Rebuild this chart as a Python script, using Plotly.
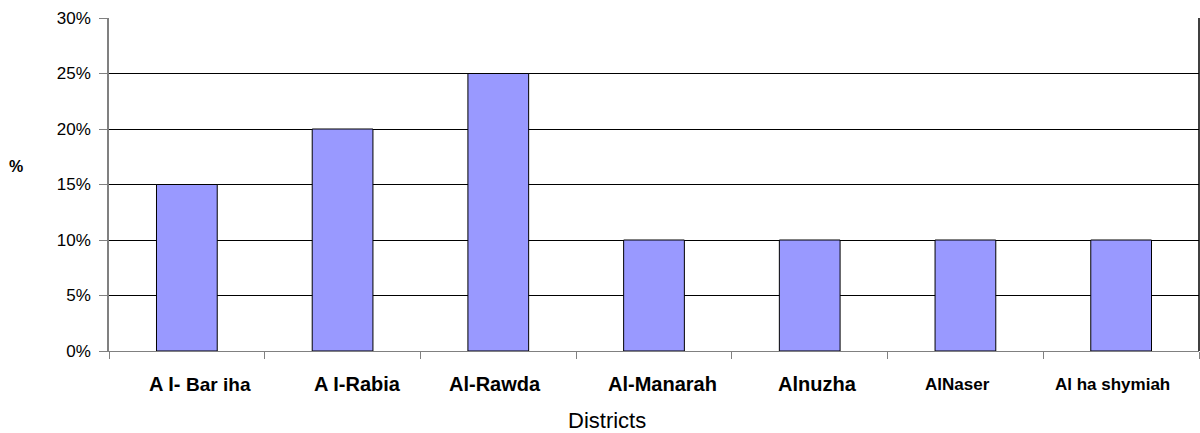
import plotly.graph_objects as go

districts = ["A I- Bar iha", "A I-Rabia", "Al-Rawda", "Al-Manarah", "Alnuzha", "AlNaser", "Al ha shymiah"]
shares = [0.15, 0.20, 0.25, 0.10, 0.10, 0.10, 0.10]
y_ticks = [0, 0.05, 0.10, 0.15, 0.20, 0.25, 0.30]
y_ticklabels = ["0%", "5%", "10%", "15%", "20%", "25%", "30%"]

# display style of each category label (rich text) and small horizontal nudges
label_html = [
    "<b>A I- <span style='font-size:19px'>Bar iha</span></b>",
    "<b>A I-Rabia</b>",
    "<b>Al-Rawda</b>",
    "<b>Al-Manarah</b>",
    "<b>Alnuzha</b>",
    "<b><span style='font-size:17px'>AlNaser</span></b>",
    "<b><span style='font-size:17px'>Al ha shymiah</span></b>",
]
label_shift = [13, 15, -3, 8, 8, -8, -9]

FONT = "Liberation Sans, Arial, sans-serif"

fig = go.Figure()
fig.add_trace(go.Bar(
    x=districts, y=shares,
    marker=dict(color="#9999FF", line=dict(color="#000000", width=1)),
    width=0.39,
    showlegend=False,
    hoverinfo="skip",
))

for name, html, sh in zip(districts, label_html, label_shift):
    fig.add_annotation(
        x=name, xref="x", y=-0.1, yref="paper",
        text=html, showarrow=False, xshift=sh,
        yanchor="middle", xanchor="center",
        font=dict(family=FONT, size=20, color="#000000"),
    )

fig.add_annotation(
    x=0.5, xref="paper", y=-0.21, yref="paper",
    text="Districts", showarrow=False, yanchor="middle", xanchor="center",
    xshift=-47,
    font=dict(family=FONT, size=22, color="#000000"),
)
fig.add_annotation(
    x=0, xref="paper", y=0.555, yref="paper",
    text="<b>%</b>", showarrow=False, xanchor="center", yanchor="middle",
    xshift=-93,
    font=dict(family=FONT, size=16, color="#000000"),
)

# right border of plot area
fig.add_shape(type="line", xref="paper", yref="paper", x0=1, x1=1, y0=0, y1=1,
              line=dict(color="#000000", width=1.5))

fig.update_layout(
    width=1200, height=433,
    margin=dict(l=109, r=1, t=18, b=82),
    paper_bgcolor="#FFFFFF", plot_bgcolor="#FFFFFF",
    bargap=0.61,
    font=dict(family=FONT, color="#000000"),
)
fig.update_xaxes(
    type="category", showticklabels=False, showgrid=False,
    tickson="boundaries", ticks="outside", ticklen=7, tickcolor="#808080",
    showline=True, linecolor="#808080", linewidth=1,
    range=[-0.5, len(districts) - 0.5],
)
fig.update_yaxes(
    range=[0, 0.30], tickvals=y_ticks, ticktext=y_ticklabels,
    showgrid=True, gridcolor="#000000", gridwidth=1,
    zeroline=False,
    ticks="outside", ticklen=8, tickcolor="#808080",
    showline=True, linecolor="#808080", linewidth=1.5,
    tickfont=dict(family=FONT, size=17, color="#000000"),
    ticklabelstandoff=5,
)

fig.write_html(
    "out.html",
    config={"displayModeBar": False},
    post_script="document.body.style.margin='0';document.body.style.padding='0';",
)
